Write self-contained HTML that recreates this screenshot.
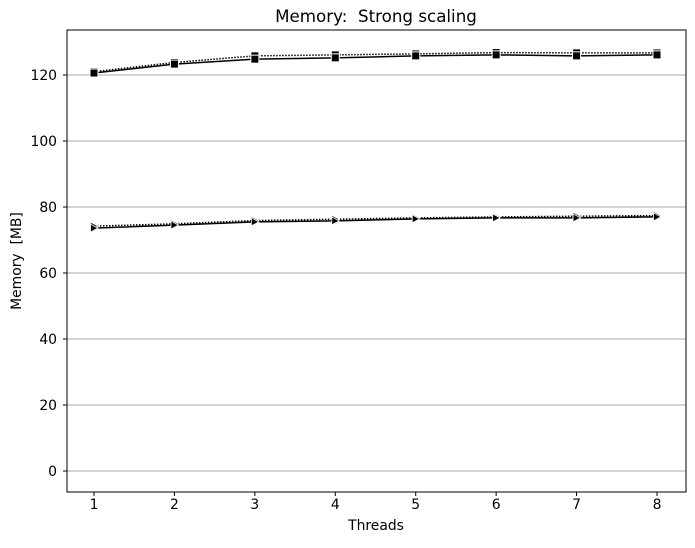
<!DOCTYPE html>
<html><head><meta charset="utf-8"><style>
body{margin:0;background:#fff;font-family:"Liberation Sans","DejaVu Sans",sans-serif}
text{font-family:"DejaVu Sans","Liberation Sans",sans-serif;font-size:13.9px;fill:#000;white-space:pre}
</style></head><body>
<svg id="chart" width="695" height="543">
<text x="376" y="22" text-anchor="middle" style="font-size:16.7px" xml:space="preserve">Memory:  Strong scaling</text>
<g id="grid"></g><g id="axes"></g><g id="series"></g>
<text x="376" y="530" text-anchor="middle">Threads</text>
<text transform="translate(21,261) rotate(-90)" text-anchor="middle" xml:space="preserve">Memory  [MB]</text>
</svg>
<script>
const threads=[1,2,3,4,5,6,7,8];
const sqSolid=[120.6,123.3,124.8,125.2,125.8,126.1,125.8,126.1];
const sqDotted=[121.0,123.8,125.8,126.1,126.4,126.8,126.7,126.7];
const triSolid=[73.6,74.5,75.5,75.8,76.4,76.7,76.7,77.0];
const triDotted=[74.2,74.9,75.9,76.3,76.7,77.0,77.2,77.4];
const yTicks=[0,20,40,60,80,100,120];
const NS='http://www.w3.org/2000/svg';
const L=67,R=686,T=30,B=492;
const x=v=>94+(v-1)*(657-94)/7;
const y=v=>471-v*3.3;
function mk(tag,attrs,parent){const e=document.createElementNS(NS,tag);for(const k in attrs)e.setAttribute(k,attrs[k]);parent.appendChild(e);return e;}
const grid=document.getElementById('grid'),axes=document.getElementById('axes'),ser=document.getElementById('series');
yTicks.forEach(t=>{
 const g=mk('line',{x1:L,x2:R,y1:y(t),y2:y(t),stroke:'#a8a8a8','stroke-width':1},grid);
 
 
 mk('line',{x1:L-4,x2:L,y1:y(t),y2:y(t),stroke:'#000'},axes);
 const tx=mk('text',{x:L-10,y:y(t)+5,'text-anchor':'end'},axes);tx.textContent=t;
 
 
});
threads.forEach(t=>{
 mk('line',{x1:x(t),x2:x(t),y1:B,y2:B+4,stroke:'#000'},axes);
 const tx=mk('text',{x:x(t),y:B+17,'text-anchor':'middle'},axes);tx.textContent=t;
 
 
});
const fr=mk('rect',{x:L,y:T,width:R-L,height:B-T,fill:'none',stroke:'#000','stroke-width':1},axes);


function series(vals,dash,marker,name){
 const g=mk('g',{},ser);
 
 
 mk('polyline',{points:vals.map((v,i)=>x(threads[i])+','+y(v)).join(' '),fill:'none',stroke:'#000','stroke-width':1.5,'stroke-dasharray':dash},g);
 vals.forEach((v,i)=>{
  const cx=x(threads[i]),cy=y(v);let m;
  if(marker==='sq')m=mk('rect',{x:cx-4,y:cy-4,width:8,height:8,fill:'#000',stroke:'#fff','stroke-width':1},g);
  else m=mk('polygon',{points:`${cx-3.5},${cy-4} ${cx+4},${cy} ${cx-3.5},${cy+4}`,fill:'#000',stroke:'#fff','stroke-width':0.8},g);
  
  
 });
}
series(sqDotted,'1.5,1.5','sq','series-square-dotted');
series(sqSolid,'','sq','series-square-solid');
series(triDotted,'1.5,1.5','tri','series-triangle-dotted');
series(triSolid,'','tri','series-triangle-solid');
</script>
</body></html>
